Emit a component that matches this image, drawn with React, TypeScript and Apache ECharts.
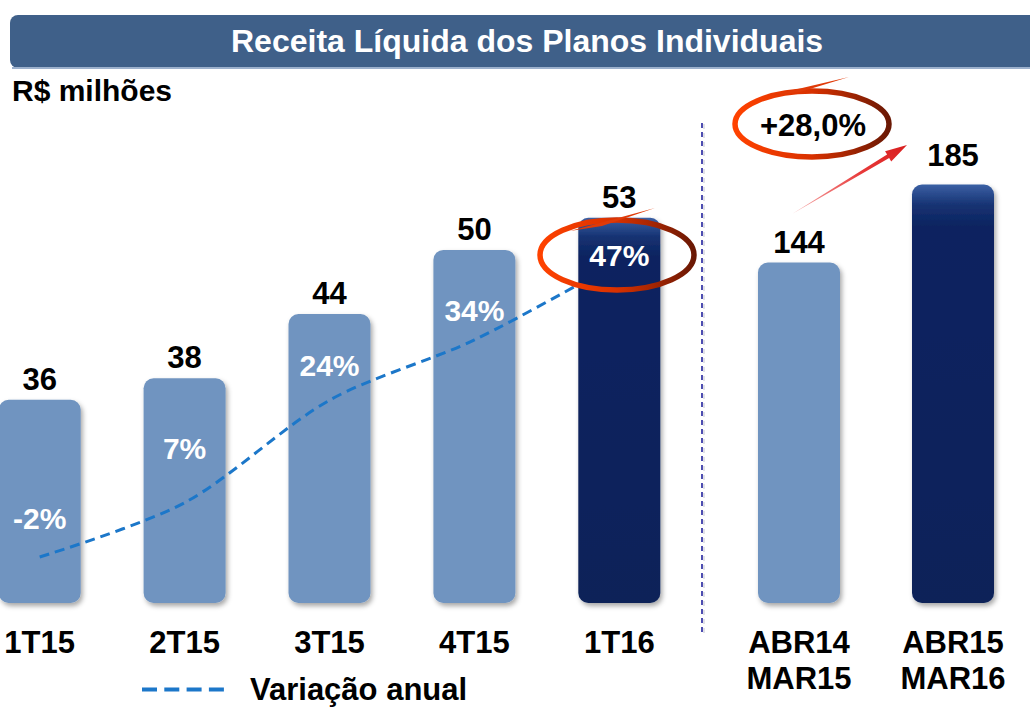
import React, { useEffect, useRef } from "react";
import * as echarts from "echarts";

// ---------- data ----------
const TITLE = "Receita Líquida dos Planos Individuais";
const UNIT = "R$ milhões";
const LINE_NAME = "Variação anual";
const quarters = ["1T15", "2T15", "3T15", "4T15", "1T16"];
const quarterRevenue = [36, 38, 44, 50, 53];
const annualGrowth = [-2, 7, 24, 34, 47];
const periods = ["ABR14\nMAR15", "ABR15\nMAR16"];
const periodRevenue = [144, 185];
const periodGrowthText = "+28,0%";
const HIGHLIGHT_QUARTER = 4;
const HIGHLIGHT_PERIOD = 1;

// ---------- styles ----------
const FONT = '"Liberation Sans", Arial, Helvetica, sans-serif';
const LIGHT = "#7094c0";
const growthLabelLift = [38, 54, 35, 29, 6];
const SHIFT = 40; // chart canvas extends 40px beyond the left edge of the page
const X = (x: number) => x + SHIFT;

const darkFill = () =>
  new echarts.graphic.LinearGradient(0, 0, 0, 1, [
    { offset: 0, color: "#3b60a4" },
    { offset: 0.05, color: "#163272" },
    { offset: 0.1, color: "#0b2460" },
    { offset: 1, color: "#0a2259" },
  ]);

const ringStroke = () =>
  new echarts.graphic.LinearGradient(0, 0, 1, 0, [
    { offset: 0, color: "#ff4200" },
    { offset: 0.5, color: "#d83100" },
    { offset: 1, color: "#6a1804" },
  ]);

const shadow = {
  shadowColor: "rgba(0,0,0,0.35)",
  shadowBlur: 5,
  shadowOffsetX: 2,
  shadowOffsetY: 3,
};

const valueLabel = {
  show: true,
  position: "top",
  distance: 5,
  fontSize: 31,
  fontWeight: "bold",
  color: "#000",
  fontFamily: FONT,
};

export default function App() {
  const ref = useRef<HTMLDivElement>(null);

  useEffect(() => {
    document.body.style.margin = "0";
    if (!ref.current) return;
    const chart = echarts.init(ref.current, undefined, { renderer: "svg" });

    const axisLabel = {
      interval: 0,
      margin: 21,
      fontSize: 31,
      lineHeight: 36,
      fontWeight: "bold",
      color: "#000",
      fontFamily: FONT,
    };

    // arrow geometry (annotation)
    const tail = [X(792), 214];
    const tip = [X(907), 145];
    const dx = tip[0] - tail[0];
    const dy = tip[1] - tail[1];
    const len = Math.sqrt(dx * dx + dy * dy);
    const ux = dx / len, uy = dy / len;
    const nx = -uy, ny = ux;
    const bx = tip[0] - 22 * ux, by = tip[1] - 22 * uy;
    const arrowPts = [
      tail,
      [bx + 2 * nx, by + 2 * ny],
      [bx + 6 * nx, by + 6 * ny],
      tip,
      [bx - 6 * nx, by - 6 * ny],
      [bx - 2 * nx, by - 2 * ny],
    ];

    const option: any = {
      animation: false,
      textStyle: { fontFamily: FONT },
      title: [
        {
          text: TITLE,
          left: X(231),
          top: 25,
          padding: 0,
          textStyle: { color: "#fff", fontSize: 32, fontWeight: "bold", fontFamily: FONT },
        },
        {
          text: UNIT,
          left: X(12),
          top: 75,
          padding: 0,
          textStyle: { color: "#000", fontSize: 30, fontWeight: "bold", fontFamily: FONT },
        },
      ],
      legend: {
        data: [LINE_NAME],
        left: X(140),
        top: 674,
        padding: 0,
        itemWidth: 82,
        itemHeight: 14,
        itemStyle: { color: "rgba(0,0,0,0)", borderWidth: 0, opacity: 0 },
        lineStyle: { type: [15, 7.3], width: 4 },
        textStyle: {
          fontSize: 31,
          fontWeight: "bold",
          color: "#000",
          fontFamily: FONT,
          padding: [0, 0, 0, 21],
        },
      },
      grid: [
        { left: X(-32.75), width: 724.5, top: 196.4, height: 406.6 },
        { left: X(722), width: 312, top: 156, height: 447 },
      ],
      xAxis: [
        {
          type: "category",
          gridIndex: 0,
          data: quarters,
          axisLine: { show: false },
          axisTick: { show: false },
          axisLabel,
        },
        {
          type: "category",
          gridIndex: 1,
          data: periods,
          axisLine: { show: false },
          axisTick: { show: false },
          axisLabel,
        },
      ],
      yAxis: [
        { type: "value", gridIndex: 0, min: 17, max: 55, show: false },
        { type: "value", gridIndex: 0, min: -9.63, max: 57.8, show: false },
        { type: "value", gridIndex: 1, min: -35, max: 200, startValue: -35, show: false },
      ],
      series: [
        {
          type: "bar",
          name: "Receita trimestral",
          xAxisIndex: 0,
          yAxisIndex: 0,
          barWidth: 82,
          barGap: "-100%",
          z: 2,
          data: quarterRevenue.map((v, i) => (i === HIGHLIGHT_QUARTER ? "-" : v)),
          itemStyle: { color: LIGHT, borderRadius: 10, ...shadow },
          label: valueLabel,
        },
        {
          type: "line",
          name: LINE_NAME,
          xAxisIndex: 0,
          yAxisIndex: 1,
          z: 3,
          smooth: 0.3,
          symbol: "none",
          data: annualGrowth,
          itemStyle: { color: "#1c77c9" },
          lineStyle: { color: "#1c77c9", width: 3, type: [10, 6] },
        },
        {
          type: "bar",
          name: "Receita trimestral destaque",
          xAxisIndex: 0,
          yAxisIndex: 0,
          barWidth: 82,
          barGap: "-100%",
          z: 4,
          data: quarterRevenue.map((v, i) => (i === HIGHLIGHT_QUARTER ? v : "-")),
          itemStyle: { color: darkFill(), borderRadius: 10, ...shadow },
          label: valueLabel,
        },
        {
          type: "scatter",
          name: "Variação rótulos",
          xAxisIndex: 0,
          yAxisIndex: 1,
          z: 5,
          silent: true,
          symbolSize: 1,
          itemStyle: { color: "rgba(0,0,0,0)", opacity: 1 },
          data: annualGrowth.map((v, i) => ({
            value: v,
            label: { offset: [0, -growthLabelLift[i]] },
          })),
          label: {
            show: true,
            position: "inside",
            formatter: "{c}%",
            color: "#ffffff",
            opacity: 1,
            fontSize: 30,
            fontWeight: "bold",
            fontFamily: FONT,
          },
        },
        {
          type: "bar",
          name: "Receita 12 meses",
          xAxisIndex: 1,
          yAxisIndex: 2,
          barWidth: 82,
          barGap: "-100%",
          z: 2,
          data: periodRevenue.map((v, i) => (i === HIGHLIGHT_PERIOD ? "-" : v)),
          itemStyle: { color: LIGHT, borderRadius: 10, ...shadow },
          label: valueLabel,
        },
        {
          type: "bar",
          name: "Receita 12 meses destaque",
          xAxisIndex: 1,
          yAxisIndex: 2,
          barWidth: 82,
          barGap: "-100%",
          z: 4,
          data: periodRevenue.map((v, i) => (i === HIGHLIGHT_PERIOD ? v : "-")),
          itemStyle: { color: darkFill(), borderRadius: 10, ...shadow },
          label: { ...valueLabel, distance: 14 },
        },
      ],
      graphic: [
        {
          type: "rect",
          z: 0,
          shape: { x: X(10), y: 15, width: 1040, height: 53, r: 8 },
          style: { fill: "#3f6089" },
        },
        {
          type: "rect",
          z: 0,
          shape: { x: X(12), y: 67, width: 1040, height: 2 },
          style: { fill: "#9db1cd" },
        },
        {
          type: "line",
          z: 1,
          shape: { x1: X(704), y1: 124, x2: X(704), y2: 636 },
          style: { stroke: "#d8d8e0", lineWidth: 1.5, lineDash: [5, 4] },
        },
        {
          type: "line",
          z: 1,
          shape: { x1: X(702), y1: 123, x2: X(702), y2: 635 },
          style: { stroke: "#22229e", lineWidth: 1.6, lineDash: [5, 4] },
        },
        {
          type: "ellipse",
          z: 10,
          shape: { cx: X(617), cy: 255, rx: 77, ry: 35 },
          style: { fill: "none", stroke: ringStroke(), lineWidth: 5.5 },
        },
        {
          type: "polygon",
          z: 10,
          shape: { points: [[X(570), 231], [X(655), 208], [X(602), 226]] },
          style: { fill: "#e03a08" },
        },
        {
          type: "ellipse",
          z: 10,
          shape: { cx: X(812), cy: 124, rx: 77, ry: 33 },
          style: { fill: "none", stroke: ringStroke(), lineWidth: 5.5 },
        },
        {
          type: "polygon",
          z: 10,
          shape: { points: [[X(768), 96], [X(849), 77], [X(800), 92]] },
          style: { fill: "#e03a08" },
        },
        {
          type: "text",
          z: 11,
          x: X(813),
          y: 125,
          style: {
            text: periodGrowthText,
            align: "center",
            verticalAlign: "middle",
            fontSize: 31,
            fontWeight: "bold",
            fill: "#000",
            fontFamily: FONT,
          },
        },
        {
          type: "polygon",
          z: 10,
          shape: { points: arrowPts },
          style: {
            fill: new echarts.graphic.LinearGradient(0, 1, 1, 0, [
              { offset: 0, color: "#f6b0b0" },
              { offset: 0.6, color: "#e83a3a" },
              { offset: 1, color: "#d81e1e" },
            ]),
          },
        },
      ],
    };

    chart.setOption(option);
    return () => chart.dispose();
  }, []);

  return (
    <div style={{ position: "relative", width: 1030, height: 707, overflow: "hidden" }}>
      <div
        ref={ref}
        style={{ position: "absolute", left: -SHIFT, top: 0, width: 1030 + SHIFT, height: 707 }}
      />
    </div>
  );
}
